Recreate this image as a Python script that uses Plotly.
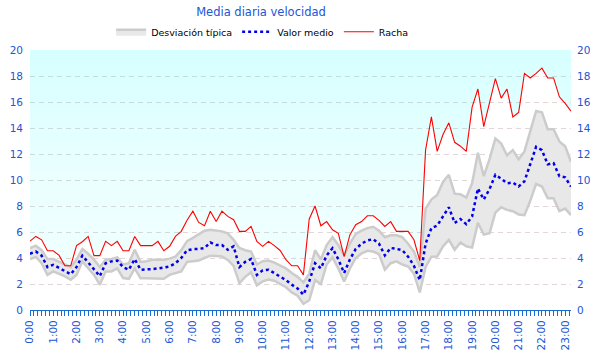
import plotly.graph_objects as go
import pandas as pd

# ---- data (15-minute steps starting 0:00) ----
times = pd.date_range("2024-01-01 00:00", periods=94, freq="15min")

racha = [5.3, 5.66, 5.4, 4.56, 4.56, 4.2, 3.4, 3.4, 4.95, 5.25,
         5.66, 4.18, 4.18, 5.28, 4.95, 5.28, 4.56, 4.56, 5.66, 4.95,
         4.95, 4.95, 5.28, 4.56, 4.9, 5.66, 6.05, 6.9, 7.6, 6.74,
         6.48, 7.6, 6.8, 7.6, 7.2, 6.95, 6.05, 6.05, 6.43, 5.28,
         4.9, 5.28, 4.95, 4.58, 3.87, 3.4, 3.4, 2.7, 7.0, 8.0,
         6.48, 6.8, 6.17, 5.9, 4.1, 5.8, 6.56, 6.8, 7.25, 7.25,
         6.9, 6.43, 6.8, 6.05, 6.05, 6.05, 5.4, 3.8, 12.3, 14.85,
         12.2, 13.5, 14.4, 12.9, 12.6, 12.2, 15.6, 17.0, 14.1, 15.9,
         17.8, 16.3, 17.0, 14.85, 15.2, 18.2, 17.85, 18.2, 18.6, 17.85,
         17.85, 16.4, 15.9, 15.3]

valor_medio = [4.33, 4.5, 4.18, 3.3, 3.48, 3.25, 2.97, 2.75, 3.3, 4.18,
               3.66, 3.15, 2.6, 3.6, 3.74, 3.8, 3.3, 3.1, 3.92, 3.1,
               3.1, 3.15, 3.2, 3.3, 3.35, 3.6, 4.0, 4.6, 4.68, 4.7,
               4.77, 5.2, 5.0, 5.0, 4.63, 4.9, 3.3, 3.7, 3.92, 2.7,
               3.05, 3.1, 2.85, 2.54, 2.3, 1.95, 1.65, 1.18, 2.2, 3.6,
               3.2, 4.2, 4.75, 3.9, 2.85, 3.9, 4.7, 5.1, 5.35, 5.45,
               5.1, 4.2, 4.77, 4.7, 4.6, 4.1, 3.4, 2.3, 5.1, 6.3,
               6.5, 7.2, 7.9, 6.7, 7.0, 6.6, 7.2, 9.35, 8.5, 9.3,
               10.4, 10.1, 9.75, 9.8, 9.5, 9.9, 11.3, 12.55, 12.3, 11.2,
               11.3, 10.3, 10.2, 9.5]

desv_sup = [4.77, 4.95, 4.6, 3.92, 3.92, 3.7, 3.48, 3.3, 3.87, 4.7,
            4.33, 3.87, 3.3, 3.87, 3.92, 4.05, 3.5, 3.6, 4.64, 3.7,
            3.75, 3.87, 3.87, 3.87, 3.95, 4.1, 4.6, 5.3, 5.55, 5.8,
            6.1, 6.17, 6.1, 6.05, 5.9, 5.4, 4.77, 4.6, 4.5, 3.5,
            3.75, 3.8, 3.65, 3.4, 3.2, 2.85, 2.55, 2.12, 2.8, 4.6,
            3.9, 5.0, 5.6, 5.0, 4.2, 5.1, 5.85, 6.1, 6.3, 6.4,
            6.1, 5.6, 5.75, 5.75, 5.6, 5.1, 4.5, 3.3, 7.8, 8.5,
            8.85, 9.85, 10.4, 8.95, 8.9, 8.65, 9.75, 12.1, 10.3, 11.6,
            13.2, 12.8, 11.9, 12.3, 11.6, 12.2, 13.7, 15.3, 15.2, 13.9,
            13.9, 12.97, 12.6, 11.4]

desv_inf = [3.92, 4.08, 3.6, 2.7, 2.97, 2.8, 2.58, 2.33, 2.7, 3.74,
            3.23, 2.7, 1.95, 2.97, 2.97, 3.2, 2.46, 2.4, 3.2, 2.45,
            2.45, 2.45, 2.4, 2.4, 2.7, 2.85, 2.97, 3.7, 3.74, 3.8,
            4.0, 4.18, 4.15, 4.12, 3.85, 3.4, 2.07, 2.55, 2.9, 1.9,
            2.2, 2.35, 2.25, 2.0, 1.75, 1.35, 1.1, 0.48, 0.75, 2.3,
            2.0, 3.5, 4.05, 3.2, 2.2, 3.2, 4.0, 4.35, 4.55, 4.5,
            4.3, 3.1, 3.6, 3.74, 3.5, 3.35, 2.8, 1.35, 3.3, 4.1,
            4.12, 4.9, 5.4, 4.64, 5.2, 4.9, 4.8, 6.7, 5.8, 5.9,
            7.5, 7.9, 7.7, 7.6, 7.35, 7.3, 8.4, 9.7, 9.5, 8.6,
            8.6, 7.6, 7.8, 7.3]

y_max = 20
y_top = [y_max] * len(times)

BLUE_TXT = "#2156d6"
AXIS_BLUE = "#1a6ccc"
FONT = "DejaVu Sans"

fig = go.Figure()

# light cyan area above the gust line (gradient)
fig.add_trace(go.Scatter(x=times, y=y_top, mode="lines", line=dict(width=0),
                         showlegend=False, hoverinfo="skip"))
fig.add_trace(go.Scatter(x=times, y=racha, mode="lines", line=dict(width=0),
                         fill="tonexty",
                         fillgradient=dict(type="vertical", start=0, stop=20,
                                           colorscale=[[0, "rgba(0,255,255,0.05)"],
                                                       [0.5, "rgba(0,255,255,0.08)"],
                                                       [1, "rgba(0,255,255,0.16)"]]),
                         showlegend=False, hoverinfo="skip"))

# standard deviation band
fig.add_trace(go.Scatter(x=times, y=desv_inf, mode="lines",
                         line=dict(color="#cccccc", width=2.5),
                         showlegend=False, hoverinfo="skip"))
fig.add_trace(go.Scatter(x=times, y=desv_sup, mode="lines", name="Desviación típica",
                         line=dict(color="#cccccc", width=2.5),
                         fill="tonexty", fillcolor="#e8e8e8"))

# mean
fig.add_trace(go.Scatter(x=times, y=valor_medio, mode="lines", name="Valor medio",
                         line=dict(color="#0000ee", width=2.5, dash="3px,3px")))

# gust
fig.add_trace(go.Scatter(x=times, y=racha, mode="lines", name="Racha",
                         line=dict(color="#ff0000", width=1.1)))

# right axis carrier (invisible)
fig.add_trace(go.Scatter(x=times, y=valor_medio, yaxis="y2", mode="lines",
                         line=dict(width=0), opacity=0, showlegend=False, hoverinfo="skip"))

fig.update_layout(
    width=600, height=360,
    margin=dict(l=30, r=29, t=50, b=50, autoexpand=False),
    paper_bgcolor="white", plot_bgcolor="white",
    font=dict(family=FONT, size=10.5, color=BLUE_TXT),
    title=dict(text="Media diaria velocidad", x=0.427, xref="paper", xanchor="center",
               y=1 - 12 / 360, yref="container", yanchor="middle",
               font=dict(family=FONT, size=11.5, color=BLUE_TXT)),
    legend=dict(orientation="h", x=0.43, xanchor="center", y=1.07, yanchor="middle",
                font=dict(family=FONT, size=9.5, color="black"),
                bgcolor="rgba(0,0,0,0)", itemwidth=30, traceorder="normal"),
    showlegend=True,
    xaxis=dict(type="date", range=[times[0], times[-1]], automargin=False,
               tickformat="%-H:%M", dtick=3600000, tickangle=-90,
               ticks="outside", ticklen=5, tickcolor=AXIS_BLUE, tickwidth=1,
               minor=dict(dtick=600000, ticks="outside", ticklen=5, tickcolor=AXIS_BLUE,
                          showgrid=False),
               showline=True, linecolor=AXIS_BLUE, linewidth=1, showgrid=False,
               zeroline=False, tickfont=dict(family=FONT, size=10.5, color=BLUE_TXT)),
    yaxis=dict(range=[0, y_max], dtick=2, showgrid=True, gridcolor="#e2d6d6",
               griddash="5px,4px", zeroline=False, showline=False, ticks="",
               ticklabelstandoff=6, automargin=False,
               tickfont=dict(family=FONT, size=10.5, color=BLUE_TXT)),
    yaxis2=dict(range=[0, y_max], dtick=2, overlaying="y", side="right",
                showgrid=False, zeroline=False, showline=False, ticks="",
                ticklabelstandoff=5, automargin=False,
                tickfont=dict(family=FONT, size=10.5, color=BLUE_TXT)),
)

fig.write_html("out.html", config={"displayModeBar": False},
               post_script="document.body.style.margin='0px';document.body.style.padding='0px';")
